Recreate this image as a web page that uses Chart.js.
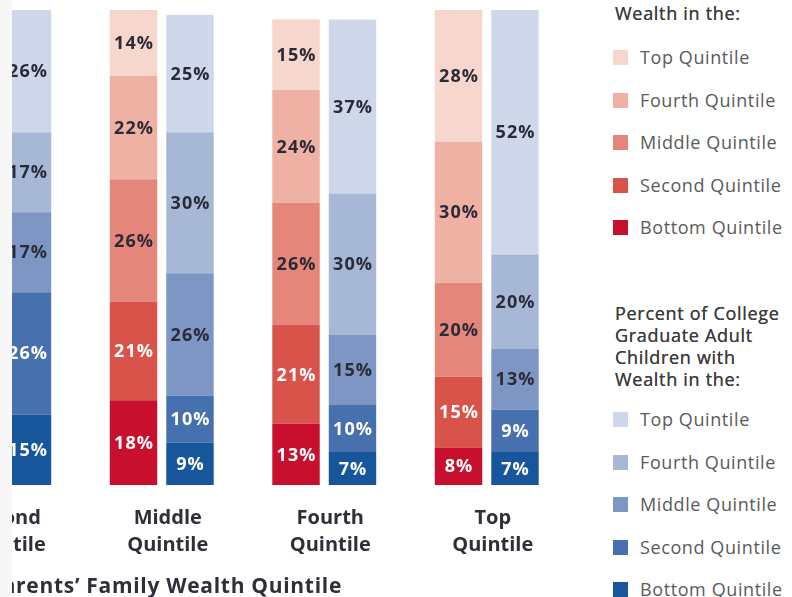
<!DOCTYPE html>
<html>
<head>
<meta charset="utf-8">
<script src="https://cdn.jsdelivr.net/npm/chart.js@4.4.1/dist/chart.umd.min.js"></script>
<style>
  body { margin: 0; background: #fff; font-family: "Open Sans", sans-serif; }
  #page { position: relative; width: 792px; height: 597px; overflow: hidden; background: #fff; }
  #edge { position: absolute; left: 0; top: 0; width: 12px; height: 597px; background: #f7f7f7; }
  #plot { position: absolute; left: 12px; top: 0; width: 580px; height: 597px; overflow: hidden; }
  #plot canvas { position: absolute; left: -94px; top: 0; }
  #axisTitle { position: absolute; right: 250px; top: 573px; font: bold 21px "Open Sans", sans-serif; letter-spacing: 0.7px; color: #2f2f3a; white-space: nowrap; line-height: 24px; }
  .lg-head { position: absolute; left: 615px; font: 18px "Open Sans", sans-serif; letter-spacing: 0.7px; color: #3c3c3c; line-height: 22px; white-space: nowrap; text-shadow: 0 0 0.4px #3c3c3c; }
  .lg-item { position: absolute; left: 613px; height: 20px; font: 18px "Open Sans", sans-serif; letter-spacing: 0.6px; color: #5a5a5a; white-space: nowrap; line-height: 20px; }
  .lg-item span { display: inline-block; width: 15px; height: 15px; vertical-align: -1px; margin-right: 12px; }
</style>
</head>
<body>
<div id="page">
  <div id="edge"></div>
  <div id="plot">
    <canvas id="myChart" width="650" height="579"></canvas>
    <div id="axisTitle">Parents’ Family Wealth Quintile</div>
  </div>
  <div id="legend"></div>
</div>
<script>
// parents' wealth quintile groups (x axis)
var categories = [['Second', 'Quintile'], ['Middle', 'Quintile'], ['Fourth', 'Quintile'], ['Top', 'Quintile']];
// child wealth quintiles, stacked bottom -> top
var levels = ['Bottom Quintile', 'Second Quintile', 'Middle Quintile', 'Fourth Quintile', 'Top Quintile'];

// percent of parents with wealth in each quintile
var parentsBottom = [null, 18, 13, 8];
var parentsSecond = [null, 21, 21, 15];
var parentsMiddle = [null, 26, 26, 20];
var parentsFourth = [null, 22, 24, 30];
var parentsTop    = [null, 14, 15, 28];

// percent of college graduate adult children with wealth in each quintile
var gradsBottom = [15, 9, 7, 7];
var gradsSecond = [26, 10, 10, 9];
var gradsMiddle = [17, 26, 15, 13];
var gradsFourth = [17, 30, 30, 20];
var gradsTop    = [26, 25, 37, 52];

var redColors  = ['#C8102E', '#D9534A', '#E4877A', '#EFB1A4', '#F7D6CD'];
var blueColors = ['#17569A', '#4770AE', '#7D96C3', '#A7B8D7', '#CED8EA'];
var labelColors = ['#ffffff', '#ffffff', '#2b2b38', '#2b2b38', '#2b2b38'];

var parentsSeries = [parentsBottom, parentsSecond, parentsMiddle, parentsFourth, parentsTop];
var gradsSeries = [gradsBottom, gradsSecond, gradsMiddle, gradsFourth, gradsTop];

var datasets = [];
levels.forEach(function(name, i) {
    datasets.push({ label: name, data: parentsSeries[i], stack: 'parents', backgroundColor: redColors[i], labelColor: labelColors[i] });
});
levels.forEach(function(name, i) {
    datasets.push({ label: name, data: gradsSeries[i], stack: 'grads', backgroundColor: blueColors[i], labelColor: labelColors[i] });
});

// percentage written in the middle of every segment
var segmentLabels = {
    id: 'segmentLabels',
    afterDatasetsDraw: function(chart) {
        var c = chart.ctx;
        c.save();
        c.font = 'bold 18px "Open Sans", sans-serif';
        c.letterSpacing = '1px';
        c.textAlign = 'center';
        c.textBaseline = 'middle';
        chart.data.datasets.forEach(function(ds, i) {
            chart.getDatasetMeta(i).data.forEach(function(bar, j) {
                var v = ds.data[j];
                if (v == null) return;
                c.fillStyle = ds.labelColor;
                c.fillText(v + '%', bar.x + 0.5, (bar.y + bar.base) / 2 + 1);
            });
        });
        c.restore();
    }
};

var ctx = document.getElementById('myChart');
var myChart = new Chart(ctx, {
    type: 'bar',
    data: { labels: categories, datasets: datasets },
    options: {
        responsive: false,
        animation: false,
        devicePixelRatio: 1,
        categoryPercentage: 0.695,
        barPercentage: 0.84,
        layout: { padding: { top: 10, left: 0, right: 0, bottom: 0 } },
        plugins: { legend: { display: false }, tooltip: { enabled: false } },
        scales: {
            x: {
                stacked: true,
                grid: { display: false, drawTicks: false },
                border: { display: false },
                ticks: { color: '#2f2f3a', padding: 20, labelOffset: 6, font: { family: 'Open Sans', size: 20, weight: 'bold', lineHeight: 1.35 } }
            },
            y: { stacked: true, display: false, min: 0, max: 101 }
        }
    },
    plugins: [segmentLabels]
});

// two-part legend on the right
var legend = document.getElementById('legend');
function addHead(lines, top) {
    lines.forEach(function(t, k) {
        var d = document.createElement('div');
        d.className = 'lg-head';
        d.style.top = (top + k * 22) + 'px';
        d.textContent = t;
        legend.appendChild(d);
    });
}
function addItems(colors, top) {
    for (var i = levels.length - 1, k = 0; i >= 0; i--, k++) {
        var d = document.createElement('div');
        d.className = 'lg-item';
        d.style.top = (top + k * 42.6) + 'px';
        d.innerHTML = '<span style="background:' + colors[i] + '"></span>' + levels[i];
        legend.appendChild(d);
    }
}
addHead(['Wealth in the:'], 2);
addItems(redColors, 47);
addHead(['Percent of College', 'Graduate Adult', 'Children with', 'Wealth in the:'], 302);
addItems(blueColors, 409);
</script>
</body>
</html>
